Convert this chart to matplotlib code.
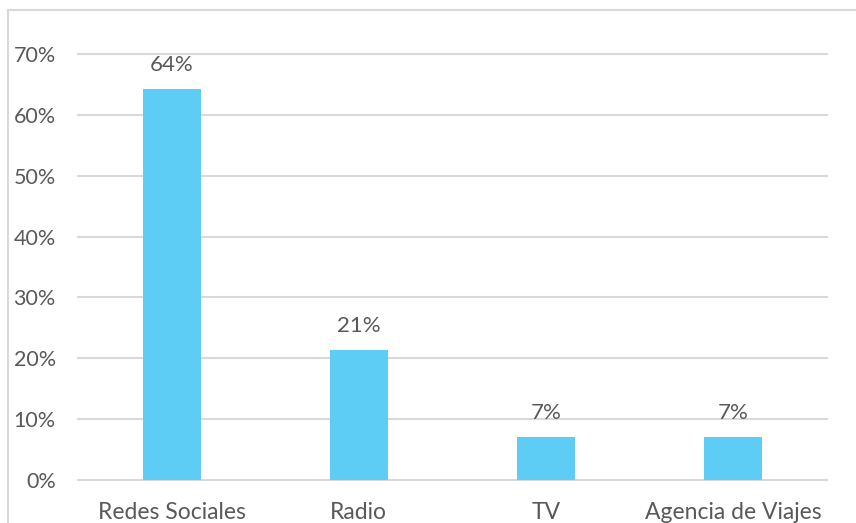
import matplotlib
matplotlib.use('Agg')
import matplotlib.pyplot as plt
from matplotlib.patches import Rectangle
from matplotlib.ticker import FuncFormatter

categories = ['Redes Sociales', 'Radio', 'TV', 'Agencia de Viajes']
values = [9 / 14.0, 3 / 14.0, 1 / 14.0, 1 / 14.0]
value_labels = ['64%', '21%', '7%', '7%']
yticks = [0, 0.1, 0.2, 0.3, 0.4, 0.5, 0.6, 0.7]

plt.rcParams['font.family'] = ['Lato', 'DejaVu Sans']
text_color = '#595959'
grid_color = '#d9d9d9'
bar_color = '#5ECDF5'

W, H = 856, 523
fig = plt.figure(figsize=(W / 100.0, H / 100.0), dpi=100)
ax = fig.add_axes([78.0 / W, (H - 480.0) / H, (827.0 - 78.0) / W, (480.0 - 54.0) / H])

# chart border (only left and top fall inside the picture)
fig.patches.append(Rectangle((8.0 / W, -0.2), 1.2, (H - 10.0) / H + 0.2,
                             transform=fig.transFigure, fill=False,
                             edgecolor=grid_color, linewidth=1.5))

x = range(len(categories))
ax.bar(x, values, width=0.31, color=bar_color, zorder=2)
for i, v in enumerate(values):
    ax.annotate(value_labels[i], (i, v), xytext=(0, 17), textcoords='offset points',
                ha='center', va='center', fontsize=16, color=text_color)

ax.set_xlim(-0.5, len(categories) - 0.5)
ax.set_ylim(0, 0.7)
ax.set_yticks(yticks)
ax.yaxis.set_major_formatter(FuncFormatter(lambda v, p: '%d%%' % round(v * 100)))
ax.set_xticks(list(x))
ax.set_xticklabels(categories)
ax.grid(axis='y', color=grid_color, linewidth=1.5, zorder=0)
for gl in ax.get_ygridlines():
    gl.set_clip_on(False)
for s in ax.spines.values():
    s.set_visible(False)
ax.tick_params(axis='both', length=0, colors=text_color)
ax.tick_params(axis='x', pad=16, labelsize=16.5)
ax.tick_params(axis='y', pad=16, labelsize=15.5)

plt.savefig('out.png', dpi=100)
